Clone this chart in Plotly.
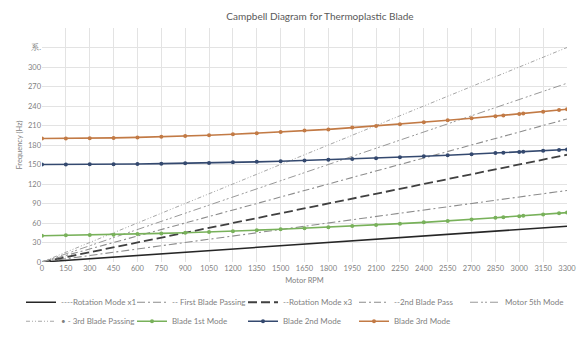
import plotly.graph_objects as go

# ---------------- data ----------------
rpm_line = [0, 3300]
rotation_x1 = [0, 55]
first_blade_passing = [0, 110]
rotation_x3 = [0, 165]
second_blade_pass = [0, 220]
motor_5th = [0, 275]
third_blade_passing = [0, 330]

rpm_modes = [0, 150, 300, 450, 600, 750, 900, 1050, 1200, 1350, 1500, 1650, 1800,
             1950, 2100, 2250, 2400, 2550, 2700, 2850, 2900, 3000, 3025, 3150, 3250, 3300]
blade_1st = [40.5, 41, 41.5, 42, 43, 44, 45, 46, 47.5, 49, 50.5, 52, 53.5,
             55.5, 57, 59, 61, 63, 65.5, 68, 69, 70.5, 71, 73, 75, 76]
blade_2nd = [150, 150, 150.2, 150.5, 150.8, 151.3, 151.8, 152.5, 153.3, 154.1, 155, 156.1, 157.4,
             158.5, 159.8, 161.2, 162.7, 164.2, 165.9, 167.6, 168.2, 169.4, 169.7, 171.2, 172.4, 173]
blade_3rd = [190, 190.1, 190.4, 190.9, 191.7, 192.6, 193.7, 195, 196.5, 198.2, 200.1, 202.2, 204,
             206.8, 209.4, 212.1, 215, 218, 221.1, 224.4, 225.5, 227.8, 228.4, 231.3, 233.8, 235]

x_ticks = list(range(0, 3301, 150))
y_ticks = list(range(0, 331, 30))
y_ticktext = [str(v) for v in y_ticks[:-1]] + ["系."]

# ---------------- figure ----------------
fig = go.Figure()

harmonics = [
    ("----Rotation Mode x1", rotation_x1, "#262626", "solid", 1.6),
    ("-- First Blade Passing", first_blade_passing, "#8c8c8c", "8px,3px,2px,3px", 1.1),
    ("--Rotation Mode x3", rotation_x3, "#404040", "9px,4px", 1.8),
    ("--2nd Blade Pass", second_blade_pass, "#8c8c8c", "7px,3px,2px,3px", 1.1),
    ("Motor 5th Mode", motor_5th, "#999999", "8px,3px,2px,2px,2px,3px", 1.0),
    ("• - 3rd Blade Passing", third_blade_passing, "#a6a6a6", "4px,2px,1px,2px,1px,2px", 1.0),
]
for name, ys, col, dash, w in harmonics:
    fig.add_trace(go.Scatter(x=rpm_line, y=ys, mode="lines", name=name,
                             line=dict(color=col, dash=dash, width=w)))

modes = [
    ("Blade 1st Mode", blade_1st, "#78b15a"),
    ("Blade 2nd Mode", blade_2nd, "#34496f"),
    ("Blade 3rd Mode", blade_3rd, "#c27a45"),
]
for name, ys, col in modes:
    fig.add_trace(go.Scatter(x=rpm_modes, y=ys, mode="lines+markers", name=name,
                             line=dict(color=col, width=1.6),
                             marker=dict(color=col, size=4)))

grid = "#e3e3e3"
txt = "#7f7f7f"
fig.update_layout(
    width=585, height=339,
    margin=dict(l=42, r=18, t=28, b=77, autoexpand=False),
    paper_bgcolor="white", plot_bgcolor="white",
    font=dict(family="Lato, Open Sans, sans-serif", size=8, color=txt),
    title=dict(text="Campbell Diagram for Thermoplastic Blade",
               x=0.547, xanchor="center", y=0.95, yanchor="middle",
               font=dict(size=10, color="#595959")),
    showlegend=True,
    legend=dict(orientation="h", x=-0.04, xanchor="left", y=-0.11, yanchor="top",
                entrywidth=66, entrywidthmode="pixels", itemwidth=30,
                font=dict(size=8, color=txt), bgcolor="rgba(0,0,0,0)",
                tracegroupgap=4),
    xaxis=dict(range=[0, 3300], tickvals=x_ticks, showgrid=True, gridcolor=grid,
               gridwidth=1, zeroline=False, showline=False, ticks="",
               tickfont=dict(size=7.5, color=txt),
               title=dict(text="Motor RPM", font=dict(size=7.5, color=txt), standoff=6)),
    yaxis=dict(range=[0, 360], tickvals=y_ticks, ticktext=y_ticktext, showgrid=True,
               gridcolor=grid, gridwidth=1, zeroline=False, showline=False, ticks="",
               tickfont=dict(size=7.5, color=txt),
               title=dict(text="Frequency (Hz)", font=dict(size=7.5, color=txt), standoff=4)),
)

fig.write_html("out.html")
